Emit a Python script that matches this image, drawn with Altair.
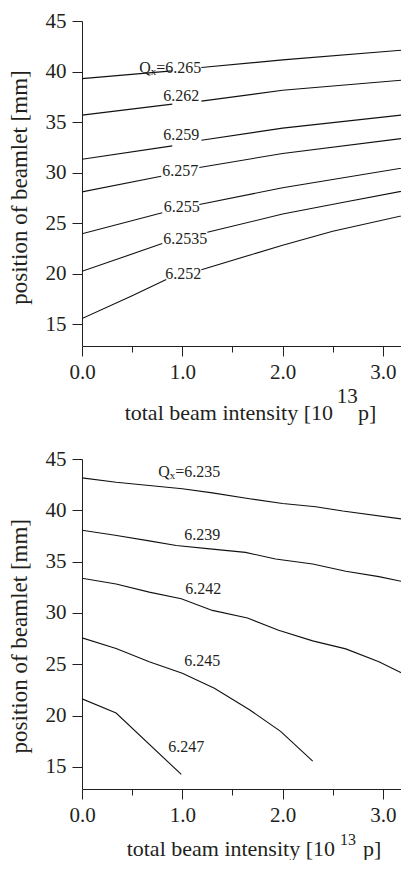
import altair as alt
import pandas as pd

FONT = "Liberation Serif"
INK = "#231f20"

# ---------------- top panel: contour lines (None = gap left for the label)
top_6265_x = [0.0, 0.90, None, 1.19, 2.0, 3.26]
top_6265_y = [39.3, 40.07, None, 40.4, 41.15, 42.17]
top_6262_x = [0.0, 0.90, None, 1.19, 2.0, 3.26]
top_6262_y = [35.69, 36.78, None, 37.07, 38.15, 39.2]
top_6259_x = [0.0, 0.90, None, 1.19, 2.0, 3.26]
top_6259_y = [31.33, 32.65, None, 33.2, 34.4, 35.78]
top_6257_x = [0.0, 0.79, None, 1.17, 2.0, 3.26]
top_6257_y = [28.1, 29.65, None, 30.5, 31.9, 33.46]
top_6255_x = [0.0, 0.80, None, 1.17, 2.0, 3.26]
top_6255_y = [23.95, 26.04, None, 26.85, 28.5, 30.56]
top_62535_x = [0.0, 0.80, None, 1.25, 2.0, 2.57, 3.26]
top_62535_y = [20.24, 22.98, None, 24.11, 25.9, 27.0, 28.3]
top_6252_x = [0.0, 0.5, 0.84, None, 1.19, 2.0, 2.5, 3.26]
top_6252_y = [15.57, 17.82, 19.44, None, 20.4, 22.82, 24.2, 25.88]

top_labels = ["6.265", "6.262", "6.259", "6.257", "6.255", "6.2535", "6.252"]
top_label_x = [0.88, 0.99, 0.99, 0.98, 0.995, 1.03, 1.01]
top_label_y = [40.36, 37.55, 33.7, 30.15, 26.62, 23.46, 19.95]

# ---------------- bottom panel
bot_6235_x = [0.0, 0.34, 1.0, 1.30, 1.67, 2.0, 2.33, 2.6, 3.26]
bot_6235_y = [43.16, 42.74, 42.1, 41.7, 41.13, 40.67, 40.35, 39.93, 39.06]
bot_6239_x = [0.0, 0.33, 0.67, 0.94, 1.3, 1.63, 1.93, 2.3, 2.63, 2.96, 3.26]
bot_6239_y = [38.06, 37.57, 37.02, 36.58, 36.22, 35.9, 35.25, 34.77, 34.06, 33.54, 32.93]
bot_6242_x = [0.0, 0.34, 0.67, 0.99, 1.3, 1.65, 1.96, 2.3, 2.63, 2.96, 3.26]
bot_6242_y = [33.38, 32.83, 32.03, 31.38, 30.25, 29.51, 28.31, 27.28, 26.5, 25.25, 23.8]
bot_6245_x = [0.0, 0.34, 0.67, 1.0, 1.32, 1.67, 1.98, 2.3]
bot_6245_y = [27.58, 26.54, 25.25, 24.12, 22.67, 20.57, 18.47, 15.57]
bot_6247_x = [0.0, 0.34, 0.99]
bot_6247_y = [21.63, 20.25, 14.27]

bot_labels = ["6.235", "6.239", "6.242", "6.245", "6.247"]
bot_label_x = [1.07, 1.2, 1.21, 1.2, 1.04]
bot_label_y = [43.75, 37.6, 32.37, 25.33, 16.9]

x_ticks = [0.0, 0.5, 1.0, 1.5, 2.0, 2.5, 3.0]
y_ticks = [15, 20, 25, 30, 35, 40, 45]
x_title = "total beam intensity [10"
x_title_exp = "13"
x_title_end = "p]"
y_title = "position of beamlet [mm]"

W = 319


def curves_df(curves):
    rows = []
    for name, xs, ys in curves:
        seg = 0
        for i, (x, y) in enumerate(zip(xs, ys)):
            if x is None:
                seg += 1
                continue
            rows.append({"curve": name, "seg": f"{name}-{seg}", "i": i, "x": x, "y": y})
    return pd.DataFrame(rows)


def labels_df(texts, xs, ys):
    return pd.DataFrame({"t": texts, "x": xs, "y": ys,
                         "eq": ["=" + t for t in texts]})


x_scale = alt.Scale(domain=[0, W / 100.3], nice=False, zero=False)
y_scale = alt.Scale(domain=[12.85, 45], nice=False, zero=False)

x_axis = alt.Axis(
    values=x_ticks,
    labelExpr="datum.value % 1 === 0 ? format(datum.value, '.1f') : ''",
    tickSize={"condition": {"test": "datum.value % 1 === 0", "value": 10}, "value": 6},
    labelFlush=False, labelOverlap=False, labelPadding=5, title=None, grid=False,
)
y_axis = alt.Axis(values=y_ticks, format="d", tickSize=10, labelPadding=6,
                  title=None, grid=False, labelFlush=False, labelOverlap=False)

X = alt.X("x:Q", scale=x_scale, axis=x_axis)
Y = alt.Y("y:Q", scale=y_scale, axis=y_axis)


def panel(curves, lab, height, ytitle_y, base_y, exp_y, exp_size, end_x, split_x, exp_x):
    cdf = curves_df(curves)
    lines = alt.Chart(cdf).mark_line(color="#111111", strokeWidth=1.1, clip=True).encode(
        x=X, y=Y, detail="seg:N", order="i:Q")
    first = lab.iloc[[0]]
    rest = lab.iloc[1:]
    txt = dict(font=FONT, fontSize=16, color=INK)
    labels = alt.Chart(rest).mark_text(**txt).encode(x=X, y=Y, text="t:N")
    q = alt.Chart(first).mark_text(text="Q", align="left", dx=-31, **txt).encode(x=X, y=Y)
    qx = alt.Chart(first).mark_text(text="x", align="left", dx=-19.5, dy=4,
                                    font=FONT, fontSize=11, color=INK).encode(x=X, y=Y)
    qv = alt.Chart(first).mark_text(align="left", dx=-14, **txt).encode(x=X, y=Y, text="eq:N")
    one = pd.DataFrame({"a": [0]})
    tt = dict(font=FONT, color=INK, baseline="alphabetic")
    t1 = alt.Chart(one).mark_text(text=x_title, align="right", fontSize=22, **tt).encode(
        x=alt.value(split_x), y=alt.value(base_y))
    t2 = alt.Chart(one).mark_text(text=x_title_exp, align="left", fontSize=exp_size, **tt).encode(
        x=alt.value(exp_x), y=alt.value(exp_y))
    t3 = alt.Chart(one).mark_text(text=x_title_end, align="left", fontSize=22, **tt).encode(
        x=alt.value(end_x), y=alt.value(base_y))
    yt = alt.Chart(one).mark_text(text=y_title, angle=270, fontSize=23, font=FONT, color=INK,
                                  baseline="middle", align="center").encode(
        x=alt.value(-62.5), y=alt.value(ytitle_y))
    return alt.layer(lines, labels, q, qx, qv, t1, t2, t3, yt).properties(width=W, height=height)


top = panel(
    [("6.265", top_6265_x, top_6265_y), ("6.262", top_6262_x, top_6262_y),
     ("6.259", top_6259_x, top_6259_y), ("6.257", top_6257_x, top_6257_y),
     ("6.255", top_6255_x, top_6255_y), ("6.2535", top_62535_x, top_62535_y),
     ("6.252", top_6252_x, top_6252_y)],
    labels_df(top_labels, top_label_x, top_label_y),
    height=325, ytitle_y=166.5, base_y=399, exp_y=382.3, exp_size=21,
    end_x=276, split_x=251, exp_x=254.7,
)
bottom = panel(
    [("6.235", bot_6235_x, bot_6235_y), ("6.239", bot_6239_x, bot_6239_y),
     ("6.242", bot_6242_x, bot_6242_y), ("6.245", bot_6245_x, bot_6245_y),
     ("6.247", bot_6247_x, bot_6247_y)],
    labels_df(bot_labels, bot_label_x, bot_label_y),
    height=330, ytitle_y=177.2, base_y=397, exp_y=386, exp_size=16,
    end_x=281, split_x=253, exp_x=258,
)

chart = alt.vconcat(top, bottom, spacing=24).properties(
    padding={"left": 0, "top": 2, "right": 0, "bottom": 0},
    background="white",
).configure_view(stroke=None).configure_axis(
    domainColor=INK, tickColor=INK, labelColor=INK, labelFont=FONT,
    labelFontSize=21, domainWidth=1, tickWidth=1,
)

chart.save("out.html", embed_options={"renderer": "svg", "actions": False})
